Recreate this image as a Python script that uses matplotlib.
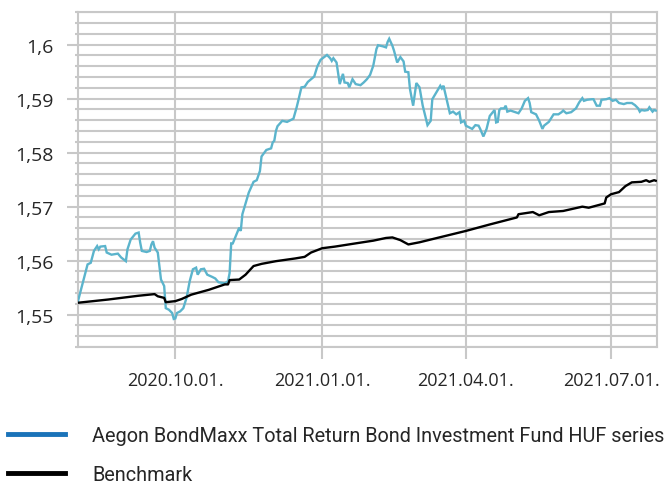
import matplotlib
matplotlib.use("Agg")
import matplotlib.pyplot as plt
import matplotlib.dates as mdates
from matplotlib.lines import Line2D
from matplotlib.ticker import FixedLocator, MultipleLocator, FixedFormatter
import pandas as pd

# ---------------- data ----------------
start_date = "2020-08-01"

fund_day = [0, 6, 8, 10, 12, 13, 14, 17, 18, 21, 25, 27, 30, 31, 33, 36, 38, 39, 40, 43,
            45, 46, 47, 48, 50, 52, 54, 55, 57, 59, 60, 61, 62, 64, 66, 68, 70, 72, 74, 75,
            77, 79, 81, 84, 86, 88, 92, 94, 95, 96, 97, 101, 102, 103, 107, 110, 112, 114, 115, 118,
            121, 122, 123, 124, 125, 128, 131, 135, 137, 138, 140, 142, 144, 148, 150, 152, 156, 158, 159, 160,
            162, 164, 166, 167, 169, 170, 172, 174, 177, 179, 181, 183, 185, 187, 188, 191, 193, 194, 195, 197,
            198, 200, 202, 204, 205, 207, 208, 210, 212, 214, 216, 219, 221, 222, 227, 228, 229, 233, 235, 237,
            239, 240, 242, 243, 247, 249, 251, 252, 254, 256, 258, 261, 262, 263, 264, 265, 267, 268, 269, 271,
            273, 276, 278, 280, 282, 283, 284, 287, 289, 291, 292, 295, 298, 301, 303, 304, 306, 309, 312, 314,
            316, 317, 319, 322, 323, 325, 327, 328, 331, 333, 335, 337, 339, 342, 344, 347, 349, 351, 352, 353,
            355, 357, 358, 360, 361, 362]
fund_value = [1.5525, 1.5593, 1.5596, 1.5618, 1.5627, 1.5621, 1.5626, 1.5627, 1.5615, 1.5611,
              1.5613, 1.5606, 1.5599, 1.5621, 1.5639, 1.5650, 1.5652, 1.5633, 1.5618, 1.5616,
              1.5618, 1.5630, 1.5636, 1.5624, 1.5615, 1.5565, 1.5553, 1.5512, 1.5509, 1.5503,
              1.5492, 1.5493, 1.5503, 1.5506, 1.5512, 1.5531, 1.5562, 1.5584, 1.5587, 1.5574,
              1.5584, 1.5585, 1.5574, 1.5570, 1.5567, 1.5560, 1.5558, 1.5562, 1.5577, 1.5632,
              1.5632, 1.5661, 1.5655, 1.5686, 1.5726, 1.5746, 1.5749, 1.5766, 1.5793, 1.5805,
              1.5808, 1.5819, 1.5822, 1.5840, 1.5849, 1.5859, 1.5857, 1.5863, 1.5884, 1.5896,
              1.5921, 1.5922, 1.5931, 1.5941, 1.5960, 1.5972, 1.5981, 1.5975, 1.5970, 1.5975,
              1.5967, 1.5927, 1.5946, 1.5930, 1.5929, 1.5921, 1.5936, 1.5927, 1.5925, 1.5930,
              1.5936, 1.5944, 1.5961, 1.5992, 1.5999, 1.5997, 1.5995, 1.6005, 1.6011, 1.5998,
              1.5989, 1.5967, 1.5977, 1.5969, 1.5950, 1.5949, 1.5918, 1.5887, 1.5929, 1.5921,
              1.5887, 1.5851, 1.5859, 1.5899, 1.5924, 1.5919, 1.5924, 1.5873, 1.5876, 1.5871,
              1.5875, 1.5856, 1.5859, 1.5850, 1.5844, 1.5851, 1.5850, 1.5844, 1.5830, 1.5844,
              1.5868, 1.5879, 1.5856, 1.5857, 1.5879, 1.5882, 1.5882, 1.5887, 1.5876, 1.5878,
              1.5876, 1.5873, 1.5882, 1.5896, 1.5901, 1.5892, 1.5875, 1.5871, 1.5859, 1.5844,
              1.5850, 1.5857, 1.5871, 1.5871, 1.5875, 1.5878, 1.5873, 1.5875, 1.5882, 1.5893,
              1.5901, 1.5896, 1.5898, 1.5899, 1.5899, 1.5887, 1.5887, 1.5898, 1.5899, 1.5901,
              1.5896, 1.5898, 1.5892, 1.5890, 1.5892, 1.5892, 1.5888, 1.5882, 1.5876, 1.5879,
              1.5878, 1.5879, 1.5884, 1.5876, 1.5879, 1.5878]

bench_day = [0, 19, 38, 48, 50, 54, 55, 61, 65, 71, 82, 92, 94, 95, 101, 105, 110, 115, 124, 136,
             142, 146, 153, 161, 174, 185, 193, 197, 202, 207, 214, 225, 243, 258, 275, 276, 285, 289, 295, 304,
             316, 320, 330, 331, 334, 339, 343, 347, 353, 356, 358, 361, 362]
bench_value = [1.5522, 1.5528, 1.5535, 1.5538, 1.5534, 1.5531, 1.5523, 1.5525, 1.5529, 1.5537,
               1.5546, 1.5556, 1.5556, 1.5564, 1.5565, 1.5574, 1.5590, 1.5594, 1.5599, 1.5604,
               1.5607, 1.5615, 1.5623, 1.5626, 1.5632, 1.5637, 1.5642, 1.5643, 1.5638, 1.5630,
               1.5634, 1.5642, 1.5655, 1.5667, 1.5680, 1.5686, 1.5690, 1.5684, 1.5690, 1.5692,
               1.5700, 1.5698, 1.5706, 1.5717, 1.5723, 1.5727, 1.5738, 1.5745, 1.5746, 1.5749,
               1.5746, 1.5749, 1.5748]

x_tick_dates = ["2020-10-01", "2021-01-01", "2021-04-01", "2021-07-01"]
y_ticks = [1.55, 1.56, 1.57, 1.58, 1.59, 1.60]
y_tick_labels = ["1,55", "1,56", "1,57", "1,58", "1,59", "1,6"]
x_range = ["2020-08-01", "2021-07-30"]
y_range = [1.544, 1.606]

fund_label = "Aegon BondMaxx Total Return Bond Investment Fund HUF series"
bench_label = "Benchmark"

# ---------------- styling ----------------
FUND_COLOR = "#5bb4cc"
FUND_LEGEND_COLOR = "#1a73b9"
BENCH_COLOR = "#000000"
GRID_COLOR = "#c8c8c8"
TEXT_COLOR = "#262626"

base = pd.Timestamp(start_date)
fund_dates = base + pd.to_timedelta(fund_day, unit="D")
bench_dates = base + pd.to_timedelta(bench_day, unit="D")

fig = plt.figure(figsize=(6.66, 4.89), dpi=100)
ax = fig.add_axes([0.1171, 0.2883, 0.987 - 0.1171, 0.9728 - 0.2883])

ax.plot(fund_dates, fund_value, color=FUND_COLOR, lw=1.7, zorder=3, solid_joinstyle="miter")
ax.plot(bench_dates, bench_value, color=BENCH_COLOR, lw=1.7, zorder=4)

ax.set_xlim(pd.Timestamp(x_range[0]), pd.Timestamp(x_range[1]))
ax.set_ylim(*y_range)

# y axis
ax.yaxis.set_major_locator(FixedLocator(y_ticks))
ax.yaxis.set_major_formatter(FixedFormatter(y_tick_labels))
ax.yaxis.set_minor_locator(MultipleLocator(0.002))
# x axis
ax.xaxis.set_major_locator(FixedLocator(mdates.date2num(pd.to_datetime(x_tick_dates))))
ax.xaxis.set_major_formatter(mdates.DateFormatter("%Y.%m.%d."))

ax.grid(True, which="both", axis="y", color=GRID_COLOR, lw=1.5, zorder=0)
ax.grid(True, which="major", axis="x", color=GRID_COLOR, lw=1.5, zorder=0)
ax.set_axisbelow(True)

for s in ax.spines.values():
    s.set_color(GRID_COLOR)
    s.set_linewidth(1.5)

tick_font = "Open Sans"
ax.tick_params(axis="y", which="major", length=8, width=1.5, color=GRID_COLOR,
               pad=9.5, labelsize=14, labelcolor=TEXT_COLOR)
ax.tick_params(axis="y", which="minor", length=2.5, width=1.5, color=GRID_COLOR)
ax.tick_params(axis="x", which="major", length=8.5, width=1.5, color=GRID_COLOR,
               pad=9, labelsize=13, labelcolor=TEXT_COLOR)
for lab in ax.get_xticklabels() + ax.get_yticklabels():
    lab.set_fontfamily(tick_font)

handles = [Line2D([], [], color=FUND_LEGEND_COLOR, lw=3.5),
           Line2D([], [], color=BENCH_COLOR, lw=3.5)]
fig.legend(handles, [fund_label, bench_label], loc="upper left",
           bbox_to_anchor=(0.012, 0.127), frameon=False,
           prop={"family": "Roboto", "size": 14.3},
           handlelength=2.85, handletextpad=1.4, labelspacing=1.0,
           borderaxespad=0, borderpad=0, labelcolor=TEXT_COLOR)

fig.savefig("out.png", dpi=100)
